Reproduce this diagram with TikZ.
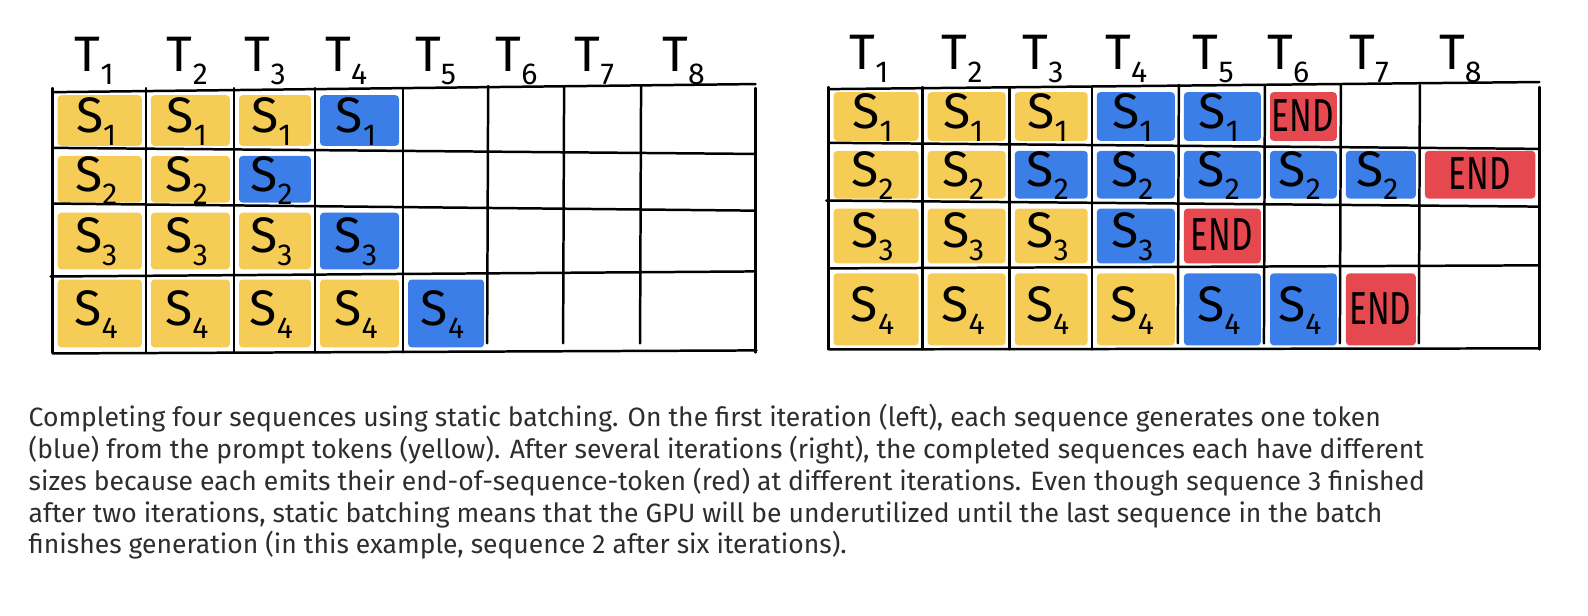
\documentclass[tikz,border=0pt]{standalone}
\usepackage{fontspec}
\setmainfont{Fira Sans}
\usetikzlibrary{positioning,calc}
\definecolor{tokY}{HTML}{F5CD56}
\definecolor{tokB}{HTML}{3C7EE8}
\definecolor{tokR}{HTML}{E5484F}
\definecolor{captext}{HTML}{2D2D2D}
\newcommand{\tok}[2]{#1\raisebox{-0.5ex}{\fontsize{17}{17}\selectfont #2}}

\begin{document}
\begin{tikzpicture}[x=0.02cm,y=-0.02cm,
  gridline/.style={line width=1.4pt,line cap=round},
  hdr/.style={font=\fontsize{28}{28}\selectfont,inner sep=0pt},
  lbl/.style={font=\fontsize{28}{28}\selectfont,inner sep=0pt},
  endlbl/.style={font=\fontsize{26}{26}\selectfont,inner sep=0pt,xscale=0.72},
  capline/.style={font=\fontsize{14.9}{19}\selectfont,text=captext,anchor=base west,inner sep=0pt}]
  \useasboundingbox (0,0) rectangle (1568,608);

  \def\lcols{{52,144,231,311,398,482,557,633,746}}
  \def\lrows{{88,148,204,270,347}}
  \def\rcols{{818,911,997,1078,1164,1249,1324,1402,1520}}
  \def\rrows{{85,143,200,264,345}}

  \foreach \r/\list in {1/{Y,Y,Y,B},2/{Y,Y,B},3/{Y,Y,Y,B},4/{Y,Y,Y,Y,B}} {
    \foreach \k [count=\c] in \list {
      \pgfmathsetmacro\xa{\lcols[\c-1]}
      \pgfmathsetmacro\xb{\lcols[\c]}
      \pgfmathsetmacro\ya{\lrows[\r-1]}
      \pgfmathsetmacro\yb{\lrows[\r]}
      \fill[tok\k,rounded corners=2pt] (\xa+5,\ya+6) rectangle (\xb-4,\yb-4);
      \node[lbl] (L-\r-\c) at ({(\xa+\xb)/2-3},{(\ya+\yb)/2+2}) {\tok{S}{\r}};
    }
  }

  \foreach \r/\list in {1/{Y,Y,Y,B,B,R},2/{Y,Y,B,B,B,B,B,R},3/{Y,Y,Y,B,R},4/{Y,Y,Y,Y,B,B,R}} {
    \foreach \k [count=\c] in \list {
      \pgfmathsetmacro\xa{\rcols[\c-1]}
      \pgfmathsetmacro\xb{\rcols[\c]}
      \pgfmathsetmacro\ya{\rrows[\r-1]}
      \pgfmathsetmacro\yb{\rrows[\r]}
      \fill[tok\k,rounded corners=2pt] (\xa+5,\ya+6) rectangle (\xb-4,\yb-4);
      \if R\k
        \node[endlbl] (R-\r-\c) at ({(\xa+\xb)/2},{(\ya+\yb)/2}) {END};
      \else
        \node[lbl] (R-\r-\c) at ({(\xa+\xb)/2-3},{(\ya+\yb)/2+2}) {\tok{S}{\r}};
      \fi
    }
  }

  \foreach \x [count=\i] in {93,185,262,342,430,510,587,675}
    \node[hdr] (LT\i) at (\x,60) {\tok{T}{\i}};
  \foreach \x [count=\i] in {858,950,1030,1112,1198,1272,1352,1442}
    \node[hdr] (RT\i) at (\x,58) {\tok{T}{\i}};

  \draw[gridline] (52,91) -- (746,83);
  \draw[gridline] (52,146) -- (746,152);
  \draw[gridline] (52,201) -- (746,208);
  \draw[gridline] (50,273) -- (746,268);
  \draw[gridline] (52,349) -- (747,346);
  \foreach \x in {52,144,231,311,398,746}
    \draw[gridline] (\x,87) -- (\x,348);
  \foreach \x in {482,557,633}
    \draw[gridline] (\x,85) -- (\x-1,339);

  \draw[gridline] (818,88) -- (1520,81);
  \draw[gridline] (818,141) -- (1520,147);
  \draw[gridline] (816,198) -- (1520,204);
  \draw[gridline] (818,265) -- (1520,262);
  \draw[gridline] (819,345) -- (1520,344);
  \foreach \x in {818,911,997,1078,1520}
    \draw[gridline] (\x,86) -- (\x,345);
  \foreach \x in {1164,1249,1324,1402}
    \draw[gridline] (\x,84) -- (\x-1,339);

  \node[capline] (cap1) at (28,421) {Completing four sequences using static batching. On the first iteration (left), each sequence generates one token};
  \node[capline] (cap2) at (28,452.5) {(blue) from the prompt tokens (yellow). After several iterations (right), the completed sequences each have different};
  \node[capline] (cap3) at (28,484) {sizes because each emits their end-of-sequence-token (red) at different iterations. Even though sequence 3 finished};
  \node[capline] (cap4) at (28,515.5) {after two iterations, static batching means that the GPU will be underutilized until the last sequence in the batch};
  \node[capline] (cap5) at (28,547) {finishes generation (in this example, sequence 2 after six iterations).};
\end{tikzpicture}
\end{document}
